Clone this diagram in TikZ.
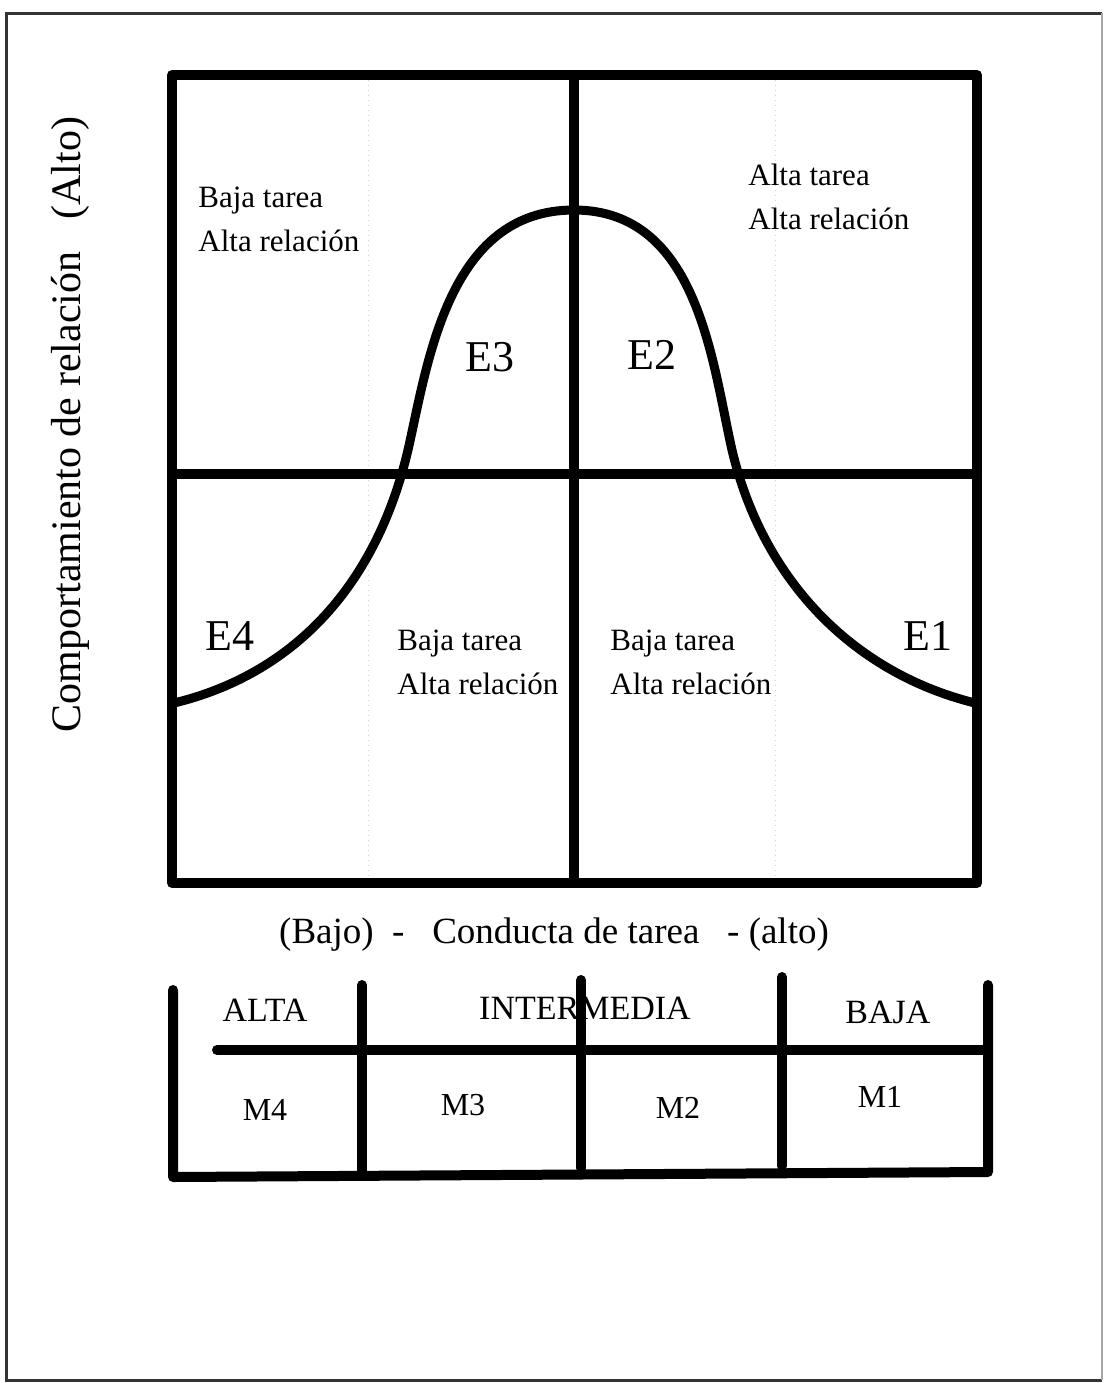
\documentclass[tikz,border=0pt]{standalone}
\usepackage{fontspec}
\setmainfont{Liberation Serif}
\usetikzlibrary{positioning,calc}

\begin{document}
\begin{tikzpicture}[
    x=0.5pt, y=-0.5pt,
    grid/.style={line width=5pt, line cap=round, line join=round},
    curve/.style={line width=4.5pt, line cap=round},
    guide/.style={gray!35, dotted, line width=0.5pt},
    quad/.style={align=left, anchor=west, inner sep=0pt,
                 font=\fontsize{15.5}{22}\selectfont},
    elabel/.style={inner sep=0pt, font=\fontsize{22}{26}\selectfont},
    axis/.style={inner sep=0pt, font=\fontsize{18.5}{22}\selectfont},
    head/.style={inner sep=0pt, font=\fontsize{17}{20}\selectfont},
    cell/.style={inner sep=0pt, font=\fontsize{16}{19}\selectfont}
]
\useasboundingbox (0,0) rectangle (1104,1383);

%% OUTER FRAME
\draw[line width=1.5pt, black!80] (1102,13) -- (6,13) -- (6,1380) -- (1102,1380);
\draw[line width=0.6pt, black!35] (1102,13) -- (1102,1380);

%% GRID
\coordinate (nw) at (172,75);
\coordinate (se) at (977,883);
\draw[guide] (368,75) -- (368,883);
\draw[guide] (775,75) -- (775,883);
\draw[grid] (nw) rectangle (se);
\draw[grid] (574,75) -- (574,883);
\draw[grid] (172,474) -- (977,474);

%% CURVE
\coordinate (cl) at (174,703);
\coordinate (ctop) at (574,210);
\coordinate (cr) at (975,703);
\draw[curve] (cl) .. controls (290,675) and (375,590) .. (408,450)
    .. controls (428,362) and (448,210) .. (ctop)
    .. controls (698,210) and (712,362) .. (732,450)
    .. controls (762,577) and (850,672) .. (cr);

%% QUADRANT TEXTS
\node[quad] (qtl) at (198,219) {Baja tarea\\Alta relación};
\node[quad] (qtr) at (748,197) {Alta tarea\\Alta relación};
\node[quad] (qbl) at (397,662) {Baja tarea\\Alta relación};
\node[quad] (qbr) at (610,662) {Baja tarea\\Alta relación};

%% STYLE LABELS
\node[elabel] (e3) at (490,357) {E3};
\node[elabel] (e2) at (652,355) {E2};
\node[elabel] (e4) at (230,636) {E4};
\node[elabel] (e1) at (928,636) {E1};

%% AXIS LABELS
\node[axis, rotate=90, font=\fontsize{21}{24}\selectfont]
    (yrel) at (70,492) {Comportamiento de relación};
\node[axis, rotate=90, font=\fontsize{21}{24}\selectfont]
    (yalto) at (70,168) {(Alto)};
\node[axis] (xtask) at (554,935) {(Bajo)\ \ -\ \ \ Conducta de tarea\ \ \ - (alto)};

%% MATURITY TABLE
\node[head] (alta) at (265,1010) {ALTA};
\node[head] (inter) at (585,1008) {INTERMEDIA};
\node[head] (baja) at (888,1012) {BAJA};
\node[cell] (m4) at (265,1110) {M4};
\node[cell] (m3) at (463,1105) {M3};
\node[cell] (m2) at (678,1108) {M2};
\node[cell] (m1) at (880,1097) {M1};

\draw[grid] (173,990) -- (173,1177) -- (988,1172) -- (988,985);
\draw[grid] (362,985) -- (362,1172);
\draw[grid] (581,980) -- (581,1168);
\draw[grid] (782,977) -- (782,1166);
\draw[grid] (217,1050) -- (988,1050);

\end{tikzpicture}
\end{document}
